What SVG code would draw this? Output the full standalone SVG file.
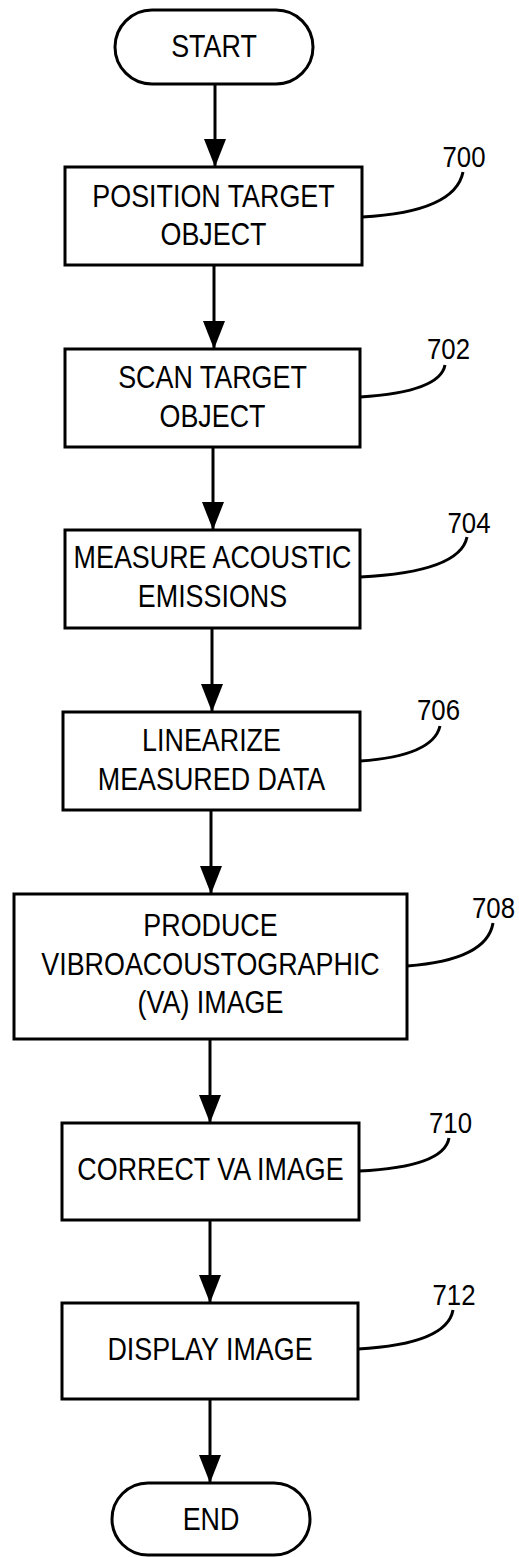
<svg xmlns="http://www.w3.org/2000/svg" width="519" height="1557" viewBox="0 0 519 1557">
<style>
.box{fill:#fff;stroke:#000;stroke-width:3}
.t{font-family:"Liberation Sans",Arial,sans-serif;font-size:32px;fill:#000;text-anchor:middle}
.n{font-family:"Liberation Sans",Arial,sans-serif;font-size:30px;fill:#000;text-anchor:middle}
.c{fill:none;stroke:#000;stroke-width:3}
.l{fill:none;stroke:#000;stroke-width:3}
</style>
<defs>
<marker id="ah" markerUnits="userSpaceOnUse" markerWidth="28" markerHeight="22" refX="28" refY="11" orient="auto" viewBox="0 0 28 22">
<path d="M0,0 L28,11 L0,22 z" fill="#000"/>
</marker>
</defs>
<rect width="519" height="1557" fill="#fff"/>
<g id="connectors">
<line class="c" x1="215" y1="84" x2="215" y2="167" marker-end="url(#ah)"/>
<line class="c" x1="214" y1="265" x2="214" y2="349" marker-end="url(#ah)"/>
<line class="c" x1="213" y1="447" x2="213" y2="530" marker-end="url(#ah)"/>
<line class="c" x1="212" y1="628" x2="212" y2="712" marker-end="url(#ah)"/>
<line class="c" x1="211" y1="810" x2="211" y2="894" marker-end="url(#ah)"/>
<line class="c" x1="210" y1="1039" x2="210" y2="1123" marker-end="url(#ah)"/>
<line class="c" x1="210" y1="1220" x2="210" y2="1303" marker-end="url(#ah)"/>
<line class="c" x1="210" y1="1399" x2="210" y2="1483" marker-end="url(#ah)"/>
</g>
<g id="start">
<rect class="box" x="115" y="10" width="198" height="74" rx="37"/>
<text class="t" transform="translate(214,57) scale(0.84,1)">START</text>
</g>
<g id="n700">
<rect class="box" x="65" y="167" width="297" height="98"/>
<text class="t" transform="translate(213.5,207) scale(0.84,1)">POSITION TARGET</text>
<text class="t" transform="translate(213.5,245) scale(0.84,1)">OBJECT</text>
<path class="l" d="M362,217 Q455,212 463,172"/>
<text class="n" transform="translate(464,167) scale(0.86,1)">700</text>
</g>
<g id="n702">
<rect class="box" x="65" y="349" width="295" height="98"/>
<text class="t" transform="translate(212.5,388) scale(0.84,1)">SCAN TARGET</text>
<text class="t" transform="translate(212.5,427) scale(0.84,1)">OBJECT</text>
<path class="l" d="M360,397 Q440,392 445,365"/>
<text class="n" transform="translate(448.5,359) scale(0.86,1)">702</text>
</g>
<g id="n704">
<rect class="box" x="65" y="530" width="295" height="98"/>
<text class="t" transform="translate(212.5,568) scale(0.84,1)">MEASURE ACOUSTIC</text>
<text class="t" transform="translate(212.5,607) scale(0.84,1)">EMISSIONS</text>
<path class="l" d="M360,577 Q460,572 467,537"/>
<text class="n" transform="translate(469,533) scale(0.86,1)">704</text>
</g>
<g id="n706">
<rect class="box" x="63" y="712" width="297" height="98"/>
<text class="t" transform="translate(211.5,751) scale(0.84,1)">LINEARIZE</text>
<text class="t" transform="translate(211.5,790) scale(0.84,1)">MEASURED DATA</text>
<path class="l" d="M360,761 Q433,756 440,726"/>
<text class="n" transform="translate(438.5,720) scale(0.86,1)">706</text>
</g>
<g id="n708">
<rect class="box" x="14" y="894" width="393" height="145"/>
<text class="t" transform="translate(210.5,936) scale(0.84,1)">PRODUCE</text>
<text class="t" transform="translate(210.5,975) scale(0.84,1)">VIBROACOUSTOGRAPHIC</text>
<text class="t" transform="translate(210.5,1013) scale(0.84,1)">(VA) IMAGE</text>
<path class="l" d="M407,966 Q487,960 493,923"/>
<text class="n" transform="translate(493.5,918) scale(0.86,1)">708</text>
</g>
<g id="n710">
<rect class="box" x="62" y="1123" width="297" height="97"/>
<text class="t" transform="translate(210.5,1180) scale(0.84,1)">CORRECT VA IMAGE</text>
<path class="l" d="M359,1171 Q444,1167 449,1138"/>
<text class="n" transform="translate(450.5,1133) scale(0.86,1)">710</text>
</g>
<g id="n712">
<rect class="box" x="62" y="1303" width="296" height="96"/>
<text class="t" transform="translate(210,1360) scale(0.84,1)">DISPLAY IMAGE</text>
<path class="l" d="M358,1349 Q447,1344 453,1310"/>
<text class="n" transform="translate(454,1305) scale(0.86,1)">712</text>
</g>
<g id="end">
<rect class="box" x="112" y="1483" width="198" height="72" rx="36"/>
<text class="t" transform="translate(211,1530) scale(0.84,1)">END</text>
</g>
</svg>
